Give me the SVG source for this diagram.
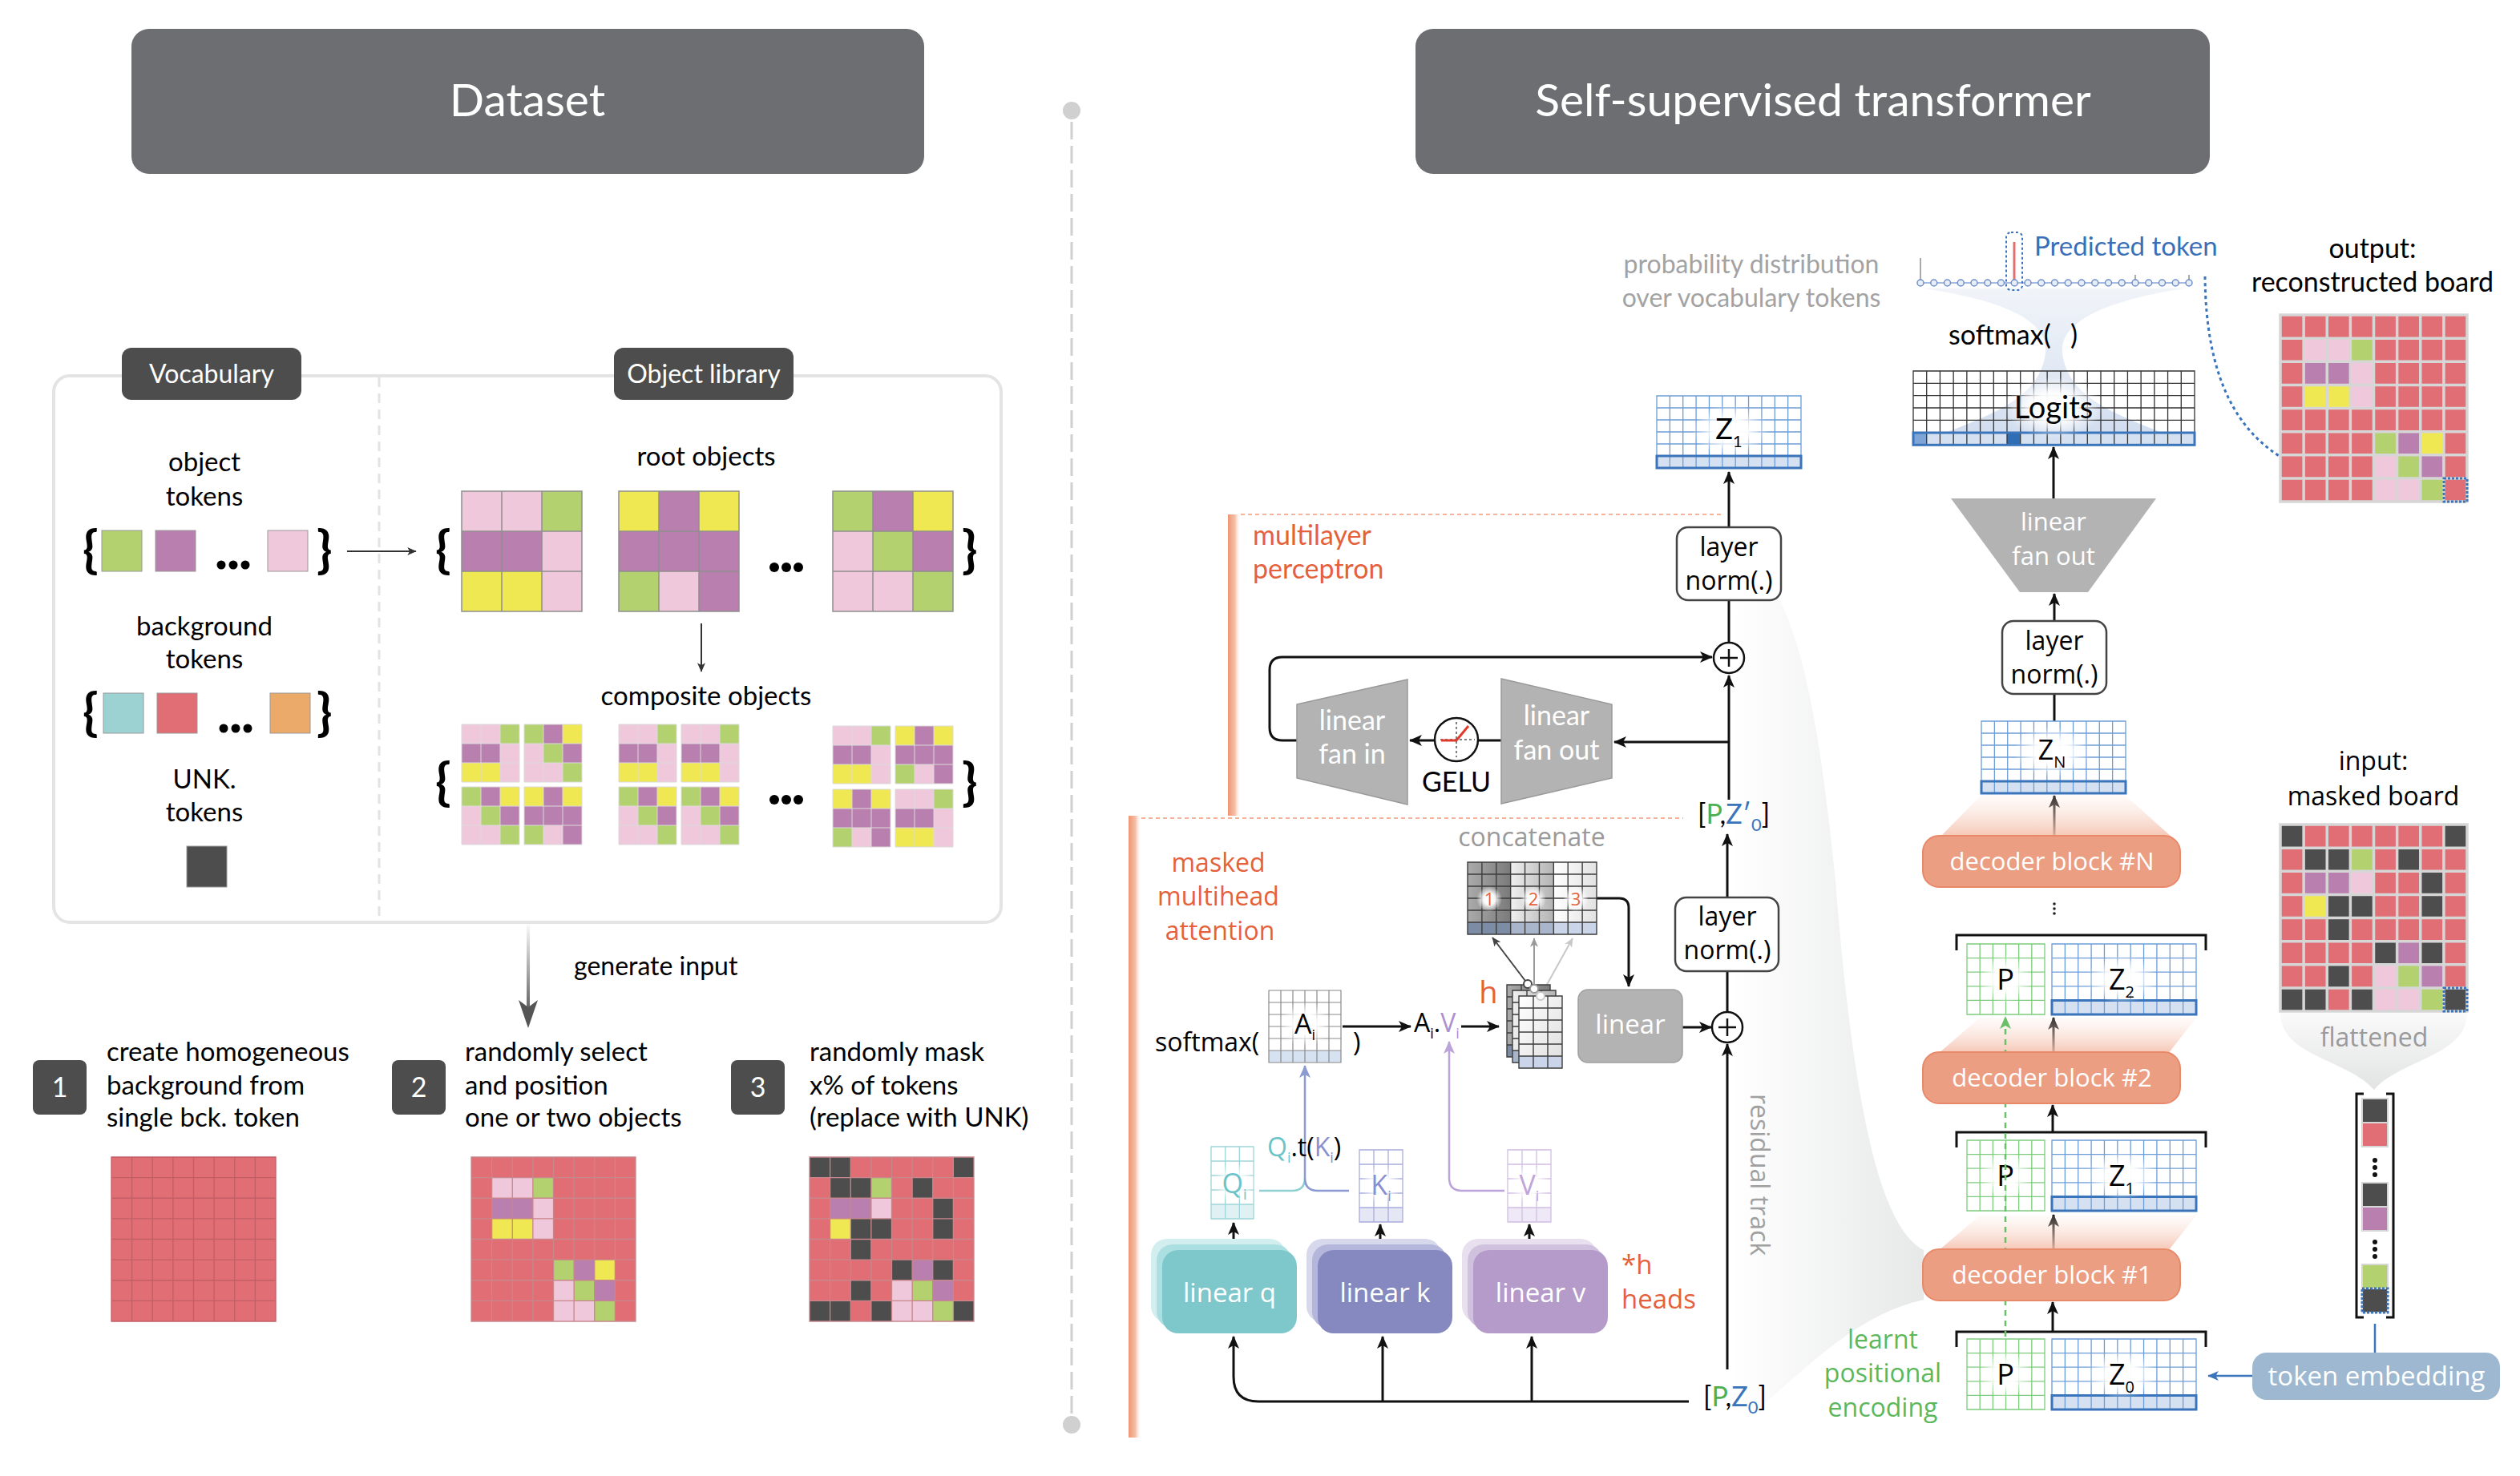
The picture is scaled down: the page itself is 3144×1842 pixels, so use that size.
<svg xmlns="http://www.w3.org/2000/svg" width="3144" height="1842" viewBox="0 0 3144 1842">
<defs>
<style>
.my{font-family:Lato,"Open Sans","Liberation Sans",sans-serif}
.geo{font-family:"Open Sans","DejaVu Sans",sans-serif}
.g{fill:#b3d16f}.p{fill:#b97faf}.k{fill:#f0c8db}.y{fill:#f0e853}.r{fill:#e06e74}.d{fill:#4d4d4d}.t{fill:#9dd2d3}.o{fill:#ecaa6a}
.ns{vector-effect:non-scaling-stroke}
.ln{fill:none;stroke:#111;stroke-width:3}
.or{fill:#e5613b}
.dec{fill:#eb9e82;stroke:#e8896a;stroke-width:2}
.dect{font-size:31px;fill:#fff;text-anchor:middle}
.lnbox{fill:#fff;stroke:#444;stroke-width:2.5}
.tok{stroke:#999;stroke-width:1}
</style>
<marker id="mk" viewBox="0 0 16 14" refX="15" refY="7" markerWidth="16" markerHeight="14" markerUnits="userSpaceOnUse" orient="auto"><path d="M0 0L16 7L0 14L4 7Z" fill="#111"/></marker>
<marker id="mks" viewBox="0 0 16 14" refX="15" refY="7" markerWidth="12" markerHeight="10" markerUnits="userSpaceOnUse" orient="auto"><path d="M0 0L16 7L0 14L4 7Z" fill="#333"/></marker>
<marker id="mg1" viewBox="0 0 16 14" refX="15" refY="7" markerWidth="12" markerHeight="10" markerUnits="userSpaceOnUse" orient="auto"><path d="M0 0L16 7L0 14L4 7Z" fill="#444"/></marker>
<marker id="mg2" viewBox="0 0 16 14" refX="15" refY="7" markerWidth="12" markerHeight="10" markerUnits="userSpaceOnUse" orient="auto"><path d="M0 0L16 7L0 14L4 7Z" fill="#9a9a9a"/></marker>
<marker id="mg3" viewBox="0 0 16 14" refX="15" refY="7" markerWidth="12" markerHeight="10" markerUnits="userSpaceOnUse" orient="auto"><path d="M0 0L16 7L0 14L4 7Z" fill="#c8c8c8"/></marker>
<marker id="mb" viewBox="0 0 16 14" refX="15" refY="7" markerWidth="16" markerHeight="12" markerUnits="userSpaceOnUse" orient="auto"><path d="M0 0L16 7L0 14L4 7Z" fill="#3a75bb"/></marker>
<marker id="mgr" viewBox="0 0 16 14" refX="15" refY="7" markerWidth="16" markerHeight="14" markerUnits="userSpaceOnUse" orient="auto"><path d="M0 0L16 7L0 14L4 7Z" fill="#6abf69"/></marker>
<marker id="mlav" viewBox="0 0 16 14" refX="15" refY="7" markerWidth="16" markerHeight="14" markerUnits="userSpaceOnUse" orient="auto"><path d="M0 0L16 7L0 14L4 7Z" fill="#8c9ad2"/></marker>
<marker id="mpur" viewBox="0 0 16 14" refX="15" refY="7" markerWidth="16" markerHeight="14" markerUnits="userSpaceOnUse" orient="auto"><path d="M0 0L16 7L0 14L4 7Z" fill="#bca3d9"/></marker>
<linearGradient id="gIn" gradientUnits="userSpaceOnUse" x1="0" y1="1150" x2="0" y2="1270"><stop offset="0" stop-color="#fff"/><stop offset="1" stop-color="#555"/></linearGradient>
<linearGradient id="gBar" x1="0" y1="0" x2="1" y2="0"><stop offset="0" stop-color="#ee9674"/><stop offset=".55" stop-color="#f5c0a9"/><stop offset="1" stop-color="#fff" stop-opacity="0"/></linearGradient>
<linearGradient id="gLens" gradientUnits="userSpaceOnUse" x1="2160" y1="0" x2="2400" y2="0"><stop offset="0" stop-color="#fff"/><stop offset="1" stop-color="#e7e8e8"/></linearGradient>
<linearGradient id="gPink" x1="0" y1="1" x2="0" y2="0"><stop offset="0" stop-color="#f4bfab" stop-opacity=".9"/><stop offset="1" stop-color="#fbe3da" stop-opacity=".15"/></linearGradient>
<linearGradient id="gFun" x1="0" y1="1" x2="0" y2="0"><stop offset="0" stop-color="#c6d5ec"/><stop offset=".55" stop-color="#dfe7f3"/><stop offset="1" stop-color="#eef2f8"/></linearGradient>
<linearGradient id="gFlat" x1="0" y1="0" x2="0" y2="1"><stop offset="0" stop-color="#fafafa"/><stop offset="1" stop-color="#e2e3e3"/></linearGradient>
<linearGradient id="gc1" x1="0" y1="0" x2="1" y2="0"><stop offset="0" stop-color="#ababab"/><stop offset="1" stop-color="#7a7a7a"/></linearGradient>
<linearGradient id="gc2" x1="0" y1="0" x2="1" y2="0"><stop offset="0" stop-color="#f0f0f0"/><stop offset="1" stop-color="#b3b3b3"/></linearGradient>
<linearGradient id="gc3" x1="0" y1="0" x2="1" y2="0"><stop offset="0" stop-color="#fff"/><stop offset="1" stop-color="#e2e2e2"/></linearGradient>
<linearGradient id="gs3" x1="0" y1="0" x2="1" y2="1"><stop offset="0" stop-color="#fff"/><stop offset="1" stop-color="#dedede"/></linearGradient>
<radialGradient id="glow"><stop offset="0" stop-color="#fff"/><stop offset=".45" stop-color="#fff" stop-opacity=".95"/><stop offset="1" stop-color="#fff" stop-opacity="0"/></radialGradient>
<path id="gl3" class="ns" fill="none" d="M0 0H3V3H0ZM1 0V3M2 0V3M0 1H3M0 2H3"/>
<path id="gl8" class="ns" fill="none" d="M0 0H8V8H0ZM1 0V8M2 0V8M3 0V8M4 0V8M5 0V8M6 0V8M7 0V8M0 1H8M0 2H8M0 3H8M0 4H8M0 5H8M0 6H8M0 7H8"/>
<path id="gz6" class="ns" fill="none" d="M0 0H11V6H0ZM1 0V6M2 0V6M3 0V6M4 0V6M5 0V6M6 0V6M7 0V6M8 0V6M9 0V6M10 0V6M0 1H11M0 2H11M0 3H11M0 4H11M0 5H11"/>
<path id="gz5" class="ns" fill="none" d="M0 0H11V5H0ZM1 0V5M2 0V5M3 0V5M4 0V5M5 0V5M6 0V5M7 0V5M8 0V5M9 0V5M10 0V5M0 1H11M0 2H11M0 3H11M0 4H11"/>
<path id="gp" class="ns" fill="none" d="M0 0H6V5H0ZM1 0V5M2 0V5M3 0V5M4 0V5M5 0V5M0 1H6M0 2H6M0 3H6M0 4H6"/>
<path id="glog" class="ns" fill="none" d="M0 0H21V6H0ZM1 0V6M2 0V6M3 0V6M4 0V6M5 0V6M6 0V6M7 0V6M8 0V6M9 0V6M10 0V6M11 0V6M12 0V6M13 0V6M14 0V6M15 0V6M16 0V6M17 0V6M18 0V6M19 0V6M20 0V6M0 1H21M0 2H21M0 3H21M0 4H21M0 5H21"/>
<path id="ga" class="ns" fill="none" d="M0 0H6V6H0ZM1 0V6M2 0V6M3 0V6M4 0V6M5 0V6M0 1H6M0 2H6M0 3H6M0 4H6M0 5H6"/>
<path id="gq" class="ns" fill="none" d="M0 0H3V5H0ZM1 0V5M2 0V5M0 1H3M0 2H3M0 3H3M0 4H3"/>
<path id="gc" class="ns" fill="none" d="M0 0H9V6H0ZM1 0V6M2 0V6M3 0V6M4 0V6M5 0V6M6 0V6M7 0V6M8 0V6M0 1H9M0 2H9M0 3H9M0 4H9M0 5H9"/>
<path id="gh" class="ns" fill="none" d="M0 0H3V6H0ZM1 0V6M2 0V6M0 1H3M0 2H3M0 3H3M0 4H3M0 5H3"/>
<g id="o1"><rect class="k" width="1" height="1"/><rect class="k" x="1" width="1" height="1"/><rect class="g" x="2" width="1" height="1"/><rect class="p" y="1" width="1" height="1"/><rect class="p" x="1" y="1" width="1" height="1"/><rect class="k" x="2" y="1" width="1" height="1"/><rect class="y" y="2" width="1" height="1"/><rect class="y" x="1" y="2" width="1" height="1"/><rect class="k" x="2" y="2" width="1" height="1"/></g>
<g id="o2"><rect class="y" width="1" height="1"/><rect class="p" x="1" width="1" height="1"/><rect class="y" x="2" width="1" height="1"/><rect class="p" y="1" width="1" height="1"/><rect class="p" x="1" y="1" width="1" height="1"/><rect class="p" x="2" y="1" width="1" height="1"/><rect class="g" y="2" width="1" height="1"/><rect class="k" x="1" y="2" width="1" height="1"/><rect class="p" x="2" y="2" width="1" height="1"/></g>
<g id="o3"><rect class="g" width="1" height="1"/><rect class="p" x="1" width="1" height="1"/><rect class="y" x="2" width="1" height="1"/><rect class="k" y="1" width="1" height="1"/><rect class="g" x="1" y="1" width="1" height="1"/><rect class="p" x="2" y="1" width="1" height="1"/><rect class="k" y="2" width="1" height="1"/><rect class="k" x="1" y="2" width="1" height="1"/><rect class="g" x="2" y="2" width="1" height="1"/></g>
<g id="c1"><use href="#o1"/><use href="#gl3" stroke="#dadada" stroke-width="1"/></g>
<g id="c2"><use href="#o2"/><use href="#gl3" stroke="#dadada" stroke-width="1"/></g>
<g id="c3"><use href="#o3"/><use href="#gl3" stroke="#dadada" stroke-width="1"/></g>
<g id="Zg6"><rect width="11" height="6" fill="#fff"/><rect y="5" width="11" height="1" fill="#d5e1f1"/><use href="#gz6" stroke="#6d9dd7" stroke-width="1.3"/><rect class="ns" y="5" width="11" height="1" fill="none" stroke="#3a75bb" stroke-width="3"/></g>
<g id="Zg5"><rect width="11" height="5" fill="#fff"/><rect y="4" width="11" height="1" fill="#d5e1f1"/><use href="#gz5" stroke="#6d9dd7" stroke-width="1.3"/><rect class="ns" y="4" width="11" height="1" fill="none" stroke="#3a75bb" stroke-width="3"/></g>
<g id="Pg"><rect width="6" height="5" fill="#fff"/><use href="#gp" stroke="#7dcc7d" stroke-width="1.3"/></g>
<g id="stage2"><use href="#o1" transform="translate(1,1)"/><use href="#o3" transform="translate(4,5)"/></g>
</defs>

<rect width="3144" height="1842" fill="#fff"/>

<!-- headers -->
<g id="hdr-dataset"><rect x="164" y="36" width="989" height="181" rx="22" fill="#6d6e71"/><text class="my" x="658" y="145" font-size="57" fill="#fff" text-anchor="middle">Dataset</text></g>
<g id="hdr-transformer"><rect x="1766" y="36" width="991" height="181" rx="22" fill="#6d6e71"/><text class="my" x="2262" y="145" font-size="57" fill="#fff" text-anchor="middle">Self-supervised transformer</text></g>
<g id="divider"><line x1="1337" y1="152" x2="1337" y2="1766" stroke="#d0d0d0" stroke-width="3" stroke-dasharray="22 8"/><circle cx="1337" cy="138" r="11" fill="#d0d0d0"/><circle cx="1337" cy="1778" r="11" fill="#d0d0d0"/></g>

<!-- LEFT: dataset panel -->
<g id="dataset-panel">
<rect x="67" y="469" width="1182" height="682" rx="20" fill="none" stroke="#e4e4e4" stroke-width="4"/>
<line x1="473" y1="471" x2="473" y2="1149" stroke="#e4e4e4" stroke-width="3" stroke-dasharray="12 8"/>
</g>
<g id="tab-vocabulary"><rect x="152" y="434" width="224" height="65" rx="12" fill="#4d4d4d"/><text class="my" x="264" y="478" font-size="32" fill="#fff" text-anchor="middle">Vocabulary</text></g>
<g id="tab-object-library"><rect x="766" y="434" width="224" height="65" rx="12" fill="#4d4d4d"/><text class="my" x="878" y="478" font-size="32" fill="#fff" text-anchor="middle">Object library</text></g>

<g id="object-tokens">
<text class="my" x="255" y="588" font-size="33" text-anchor="middle">object</text>
<text class="my" x="255" y="631" font-size="33" text-anchor="middle">tokens</text>
<text class="my" x="103" y="708" font-size="64" font-weight="700">{</text>
<rect class="g tok" x="127" y="662" width="50" height="51"/>
<rect class="p tok" x="194" y="662" width="50" height="51"/>
<circle cx="276" cy="705" r="5.5"/><circle cx="291" cy="705" r="5.5"/><circle cx="306" cy="705" r="5.5"/>
<rect class="k tok" x="334" y="662" width="50" height="51"/>
<text class="my" x="395" y="708" font-size="64" font-weight="700">}</text>
</g>
<g id="background-tokens">
<text class="my" x="255" y="793" font-size="33" text-anchor="middle">background</text>
<text class="my" x="255" y="834" font-size="33" text-anchor="middle">tokens</text>
<text class="my" x="103" y="911" font-size="64" font-weight="700">{</text>
<rect class="t tok" x="129" y="865" width="50" height="50"/>
<rect class="r tok" x="196" y="865" width="50" height="50"/>
<circle cx="279" cy="909" r="5.5"/><circle cx="294" cy="909" r="5.5"/><circle cx="309" cy="909" r="5.5"/>
<rect class="o tok" x="337" y="865" width="50" height="50"/>
<text class="my" x="395" y="911" font-size="64" font-weight="700">}</text>
</g>
<g id="unk-tokens">
<text class="my" x="255" y="984" font-size="33" text-anchor="middle">UNK.</text>
<text class="my" x="255" y="1025" font-size="33" text-anchor="middle">tokens</text>
<rect class="d" x="233" y="1056" width="50" height="51" stroke="#999" stroke-width="1"/>
</g>

<g id="root-objects">
<text class="my" x="881" y="581" font-size="33" text-anchor="middle">root objects</text>
<text class="my" x="543" y="708" font-size="64" font-weight="700">{</text>
<g transform="translate(576,613) scale(50)"><use href="#o1"/><use href="#gl3" stroke="#8f8f8f" stroke-width="1.5"/></g>
<g transform="translate(772,613) scale(50)"><use href="#o2"/><use href="#gl3" stroke="#8f8f8f" stroke-width="1.5"/></g>
<circle cx="966" cy="708" r="6"/><circle cx="981" cy="708" r="6"/><circle cx="996" cy="708" r="6"/>
<g transform="translate(1039,613) scale(50)"><use href="#o3"/><use href="#gl3" stroke="#8f8f8f" stroke-width="1.5"/></g>
<text class="my" x="1200" y="708" font-size="64" font-weight="700">}</text>
</g>
<g id="composite-objects">
<text class="my" x="881" y="880" font-size="33" text-anchor="middle">composite objects</text>
<text class="my" x="543" y="998" font-size="64" font-weight="700">{</text>
<use href="#c1" transform="translate(576,904) scale(24)"/>
<use href="#c3" transform="translate(654,904) scale(24)"/>
<use href="#c3" transform="translate(576,982) scale(24)"/>
<use href="#c2" transform="translate(654,982) scale(24)"/>
<use href="#c1" transform="translate(772,904) scale(24)"/>
<use href="#c1" transform="translate(850,904) scale(24)"/>
<use href="#c3" transform="translate(772,982) scale(24)"/>
<use href="#c3" transform="translate(850,982) scale(24)"/>
<circle cx="966" cy="998" r="6"/><circle cx="981" cy="998" r="6"/><circle cx="996" cy="998" r="6"/>
<use href="#c1" transform="translate(1039,906) scale(24)"/>
<use href="#c2" transform="translate(1117,906) scale(24)"/>
<use href="#c2" transform="translate(1039,985) scale(24)"/>
<use href="#c1" transform="translate(1117,985) scale(24)"/>
<text class="my" x="1200" y="998" font-size="64" font-weight="700">}</text>
</g>

<g id="dataset-connectors">
<line x1="433" y1="688" x2="519" y2="688" stroke="#333" stroke-width="2" marker-end="url(#mks)"/>
<line x1="875" y1="778" x2="875" y2="838" stroke="#333" stroke-width="2" marker-end="url(#mks)"/>
<line x1="659" y1="1153" x2="659" y2="1262" stroke="url(#gIn)" stroke-width="4"/>
<path d="M647 1248L659 1283L671 1248L659 1257Z" fill="#555"/>
</g>
<text class="my" x="716" y="1217" font-size="32">generate input</text>

<g id="step-1"><rect x="41" y="1323" width="67" height="68" rx="8" fill="#4d4d4d"/><text class="my" x="74.5" y="1369" font-size="34" fill="#fff" text-anchor="middle">1</text>
<text class="my" x="133" y="1324" font-size="33">create homogeneous</text><text class="my" x="133" y="1366" font-size="33">background from</text><text class="my" x="133" y="1406" font-size="33">single bck. token</text></g>
<g id="step-2"><rect x="489" y="1323" width="67" height="68" rx="8" fill="#4d4d4d"/><text class="my" x="522.5" y="1369" font-size="34" fill="#fff" text-anchor="middle">2</text>
<text class="my" x="580" y="1324" font-size="33">randomly select</text><text class="my" x="580" y="1366" font-size="33">and position</text><text class="my" x="580" y="1406" font-size="33">one or two objects</text></g>
<g id="step-3"><rect x="912" y="1323" width="67" height="68" rx="8" fill="#4d4d4d"/><text class="my" x="945.5" y="1369" font-size="34" fill="#fff" text-anchor="middle">3</text>
<text class="my" x="1010" y="1324" font-size="33">randomly mask</text><text class="my" x="1010" y="1366" font-size="33">x% of tokens</text><text class="my" x="1010" y="1406" font-size="33">(replace with UNK)</text></g>

<g id="board-1" transform="translate(139,1444) scale(25.625)"><rect class="r" width="8" height="8"/><use href="#gl8" stroke="#c25f66" stroke-width="1.3"/></g>
<g id="board-2" transform="translate(588,1444) scale(25.625)"><rect class="r" width="8" height="8"/><use href="#stage2"/><use href="#gl8" stroke="#c8878c" stroke-width="1.3"/></g>
<g id="board-3" transform="translate(1010,1444) scale(25.625)"><rect class="r" width="8" height="8"/><use href="#stage2"/>
<rect class="d" x="0" y="0" width="1" height="1"/><rect class="d" x="1" y="0" width="1" height="1"/><rect class="d" x="7" y="0" width="1" height="1"/>
<rect class="d" x="1" y="1" width="1" height="1"/><rect class="d" x="2" y="1" width="1" height="1"/><rect class="d" x="5" y="1" width="1" height="1"/>
<rect class="d" x="6" y="2" width="1" height="1"/>
<rect class="d" x="2" y="3" width="1" height="1"/><rect class="d" x="3" y="3" width="1" height="1"/><rect class="d" x="6" y="3" width="1" height="1"/>
<rect class="d" x="2" y="4" width="1" height="1"/>
<rect class="d" x="4" y="5" width="1" height="1"/><rect class="p" x="5" y="5" width="1" height="1"/><rect class="d" x="6" y="5" width="1" height="1"/>
<rect class="d" x="2" y="6" width="1" height="1"/>
<rect class="d" x="0" y="7" width="1" height="1"/><rect class="d" x="1" y="7" width="1" height="1"/><rect class="d" x="3" y="7" width="1" height="1"/><rect class="d" x="7" y="7" width="1" height="1"/>
<use href="#gl8" stroke="#c8878c" stroke-width="1.3"/></g>

<!-- RIGHT: transformer -->
<path id="lens" d="M2165 700C2240 705 2270 900 2290 1100C2310 1350 2340 1530 2400 1560L2400 1622C2320 1640 2260 1700 2190 1762L2165 1762Z" fill="url(#gLens)"/>

<g id="section-bars">
<rect x="1532" y="642" width="16" height="376" fill="url(#gBar)"/>
<line x1="1548" y1="642" x2="2150" y2="642" stroke="#f5b49a" stroke-width="2" stroke-dasharray="5 4"/>
<rect x="1408" y="1018" width="16" height="776" fill="url(#gBar)"/>
<line x1="1424" y1="1021" x2="2100" y2="1021" stroke="#f5b49a" stroke-width="2" stroke-dasharray="5 4"/>
<text class="my or" x="1563" y="680" font-size="34">multilayer</text>
<text class="my or" x="1563" y="722" font-size="34">perceptron</text>
<text class="geo or" x="1520" y="1088" font-size="32" text-anchor="middle">masked</text>
<text class="geo or" x="1520" y="1130" font-size="32" text-anchor="middle">multihead</text>
<text class="geo or" x="1522" y="1173" font-size="32" text-anchor="middle">attention</text>
</g>

<g id="connectors">
<!-- MLP -->
<line class="ln" x1="2157" y1="658" x2="2157" y2="589" marker-end="url(#mk)"/>
<line class="ln" x1="2157" y1="802" x2="2157" y2="749"/>
<line class="ln" x1="2157" y1="998" x2="2157" y2="843" marker-end="url(#mk)"/>
<line class="ln" x1="2157" y1="926" x2="2014" y2="926" marker-end="url(#mk)"/>
<path class="ln" d="M1618 924H1600Q1584 924 1584 908V836Q1584 820 1600 820H2136" marker-end="url(#mk)"/>
<line class="ln" x1="1873" y1="924" x2="1844" y2="924"/>
<line class="ln" x1="1790" y1="924" x2="1759" y2="924" marker-end="url(#mk)"/>
<!-- attention -->
<line class="ln" x1="2155" y1="1120" x2="2155" y2="1041" marker-end="url(#mk)"/>
<line class="ln" x1="2155" y1="1264" x2="2155" y2="1212"/>
<line class="ln" x1="2155" y1="1709" x2="2155" y2="1303" marker-end="url(#mk)"/>
<line class="ln" x1="2099" y1="1282" x2="2135" y2="1282" marker-end="url(#mk)"/>
<path class="ln" d="M1992 1121H2020Q2032 1121 2032 1133V1231" stroke-width="2.5" marker-end="url(#mk)"/>
<path class="ln" d="M2107 1749H1570Q1539 1749 1539 1718V1668" marker-end="url(#mk)"/>
<line class="ln" x1="1725" y1="1749" x2="1725" y2="1668" marker-end="url(#mk)"/>
<line class="ln" x1="1911" y1="1749" x2="1911" y2="1668" marker-end="url(#mk)"/>
<line class="ln" x1="1539" y1="1560" x2="1539" y2="1526" marker-end="url(#mk)"/>
<line class="ln" x1="1722" y1="1560" x2="1722" y2="1528" marker-end="url(#mk)"/>
<line class="ln" x1="1908" y1="1560" x2="1908" y2="1528" marker-end="url(#mk)"/>
<line class="ln" x1="1675" y1="1281" x2="1760" y2="1281" marker-end="url(#mk)"/>
<line class="ln" x1="1823" y1="1281" x2="1870" y2="1281" marker-end="url(#mk)"/>
<path d="M1571 1486H1612Q1628 1486 1628 1470" fill="none" stroke="#8fd0d3" stroke-width="2.5"/>
<path d="M1683 1486H1644Q1628 1486 1628 1470V1330" fill="none" stroke="#8c9ad2" stroke-width="2.5" marker-end="url(#mlav)"/>
<path d="M1877 1486H1824Q1808 1486 1808 1470V1300" fill="none" stroke="#bca3d9" stroke-width="2.5" marker-end="url(#mpur)"/>
<line x1="1906" y1="1228" x2="1862" y2="1170" stroke="#444" stroke-width="2" marker-end="url(#mg1)"/>
<line x1="1914" y1="1234" x2="1914" y2="1171" stroke="#9a9a9a" stroke-width="2" marker-end="url(#mg2)"/>
<line x1="1922" y1="1243" x2="1962" y2="1171" stroke="#c8c8c8" stroke-width="2" marker-end="url(#mg3)"/>
<!-- decoder stack -->
<line class="ln" x1="2562" y1="622" x2="2562" y2="558" marker-end="url(#mk)"/>
<line class="ln" x1="2563" y1="775" x2="2563" y2="741" marker-end="url(#mk)"/>
<line class="ln" x1="2563" y1="900" x2="2563" y2="866"/>
<line class="ln" x1="2563" y1="1043" x2="2563" y2="993" marker-end="url(#mk)"/>
<line class="ln" x1="2562" y1="1313" x2="2562" y2="1270" marker-end="url(#mk)"/>
<line class="ln" x1="2561" y1="1413" x2="2561" y2="1379" marker-end="url(#mk)"/>
<line class="ln" x1="2562" y1="1559" x2="2562" y2="1516" marker-end="url(#mk)"/>
<line class="ln" x1="2561" y1="1662" x2="2561" y2="1625" marker-end="url(#mk)"/>
<line x1="2810" y1="1717" x2="2755" y2="1717" stroke="#3a75bb" stroke-width="2.5" marker-end="url(#mb)"/>
<line x1="2963" y1="1652" x2="2963" y2="1688" stroke="#3a75bb" stroke-width="2.5"/>
<path d="M2751 345C2752 470 2790 535 2845 570C2895 598 2960 612 3030 613" fill="none" stroke="#3a75bb" stroke-width="3" stroke-dasharray="4 4" marker-end="url(#mb)"/>
</g>

<!-- MLP nodes -->
<g id="z1-top"><use href="#Zg6" transform="translate(2067,494) scale(16.364,15)"/><ellipse cx="2159" cy="537" rx="48" ry="32" fill="url(#glow)"/><text class="my" x="2157" y="548" font-size="36" text-anchor="middle">Z<tspan font-size="20" dy="10">1</tspan></text></g>
<g id="layer-norm-1"><rect class="lnbox" x="2092" y="658" width="130" height="91" rx="14"/><text class="geo" x="2157" y="694" font-size="32" text-anchor="middle">layer</text><text class="geo" x="2157" y="736" font-size="32" text-anchor="middle">norm(.)</text></g>
<g id="add-1"><circle cx="2157" cy="821" r="19" fill="#fff" stroke="#111" stroke-width="2.5"/><path d="M2146 821H2168M2157 810V832" stroke="#111" stroke-width="2.5"/></g>
<g id="fan-in"><polygon points="1618,879 1756,848 1756,1004 1618,971" fill="#b3b3b3" stroke="#9a9a9a" stroke-width="1.5"/><text class="my" x="1687" y="911" font-size="34" fill="#fff" text-anchor="middle">linear</text><text class="my" x="1687" y="953" font-size="34" fill="#fff" text-anchor="middle">fan in</text></g>
<g id="fan-out"><polygon points="1873,847 2011,879 2011,971 1873,1003" fill="#b3b3b3" stroke="#9a9a9a" stroke-width="1.5"/><text class="my" x="1942" y="905" font-size="34" fill="#fff" text-anchor="middle">linear</text><text class="my" x="1942" y="948" font-size="34" fill="#fff" text-anchor="middle">fan out</text></g>
<g id="gelu"><circle cx="1817" cy="923" r="27" fill="#fff" stroke="#111" stroke-width="2.5"/><path d="M1817 901V945M1797 923H1840" stroke="#555" stroke-width="1.5" stroke-dasharray="3 3"/><path d="M1798 924H1817L1832 906" fill="none" stroke="#e03a2a" stroke-width="3"/><text class="my" x="1817" y="988" font-size="34" text-anchor="middle">GELU</text></g>
<text class="my" x="2118" y="1028" font-size="34">[<tspan fill="#4fb04f">P</tspan>,<tspan fill="#3a75bb">Z′</tspan><tspan fill="#3a75bb" font-size="22" dy="9">0</tspan><tspan dy="-9">]</tspan></text>

<!-- attention nodes -->
<g id="layer-norm-2"><rect class="lnbox" x="2090" y="1120" width="129" height="92" rx="14"/><text class="geo" x="2155" y="1155" font-size="32" text-anchor="middle">layer</text><text class="geo" x="2155" y="1197" font-size="32" text-anchor="middle">norm(.)</text></g>
<g id="add-2"><circle cx="2155" cy="1282" r="19" fill="#fff" stroke="#111" stroke-width="2.5"/><path d="M2144 1282H2166M2155 1271V1293" stroke="#111" stroke-width="2.5"/></g>
<g id="linear-out"><rect x="1969" y="1235" width="130" height="91" rx="12" fill="#b3b3b3" stroke="#a0a0a0" stroke-width="1.5"/><text class="geo" x="2034" y="1290" font-size="33" fill="#fff" text-anchor="middle">linear</text></g>
<g id="concatenate">
<text class="geo" x="1911" y="1056" font-size="32" fill="#9a9a9a" text-anchor="middle">concatenate</text>
<g transform="translate(1831,1076) scale(17.889,15)">
<rect width="3" height="5" fill="url(#gc1)"/><rect x="3" width="3" height="5" fill="url(#gc2)"/><rect x="6" width="3" height="5" fill="url(#gc3)"/>
<rect y="5" width="3" height="1" fill="#7d8ca5"/><rect x="3" y="5" width="3" height="1" fill="#a8b5cb"/><rect x="6" y="5" width="3" height="1" fill="#cad5e9"/>
<use href="#gc" stroke="#3d3d3d" stroke-width="1.4"/></g>
<circle cx="1858" cy="1122" r="16" fill="url(#glow)"/><circle cx="1913" cy="1122" r="16" fill="url(#glow)"/><circle cx="1966" cy="1122" r="16" fill="url(#glow)"/>
<text class="geo or" x="1858" y="1130" font-size="22" text-anchor="middle">1</text><text class="geo or" x="1913" y="1130" font-size="22" text-anchor="middle">2</text><text class="geo or" x="1966" y="1130" font-size="22" text-anchor="middle">3</text>
</g>
<g id="heads-stack">
<g transform="translate(1880,1229) scale(18,15)"><rect width="3" height="6" fill="url(#gc1)"/><rect y="5" width="3" height="1" fill="#7d8ca5"/><use href="#gh" stroke="#3d3d3d" stroke-width="1.4"/></g>
<g transform="translate(1887,1236) scale(18,15)"><rect width="3" height="6" fill="url(#gc2)"/><rect y="5" width="3" height="1" fill="#a8b5cb"/><use href="#gh" stroke="#3d3d3d" stroke-width="1.4"/></g>
<g transform="translate(1895,1243) scale(18,15)"><rect width="3" height="6" fill="url(#gs3)"/><rect y="5" width="3" height="1" fill="#cad5e9"/><use href="#gh" stroke="#3d3d3d" stroke-width="1.4"/></g>
<circle cx="1906" cy="1228" r="5" fill="#fff" stroke="#444" stroke-width="2"/><circle cx="1914" cy="1234" r="5" fill="#fff" stroke="#9a9a9a" stroke-width="2"/><circle cx="1922" cy="1243" r="5" fill="#fff" stroke="#c8c8c8" stroke-width="2"/>
<text class="geo or" x="1857" y="1252" font-size="38" text-anchor="middle">h</text>
</g>
<g id="softmax-attn">
<text class="geo" x="1441" y="1312" font-size="32">softmax(</text>
<g transform="translate(1583,1236) scale(15)"><rect width="6" height="6" fill="#fff"/><rect y="5" width="6" height="1" fill="#d6e1f1"/><use href="#ga" stroke="#8a8a8a" stroke-width="1.2"/></g>
<ellipse cx="1628" cy="1278" rx="32" ry="28" fill="url(#glow)"/>
<text class="geo" x="1628" y="1290" font-size="34" text-anchor="middle">A<tspan font-size="18" dy="8">i</tspan></text>
<text class="geo" x="1688" y="1312" font-size="32">)</text>
</g>
<text id="av" class="geo" x="1764" y="1288" font-size="32">A<tspan font-size="18" dy="8">i</tspan><tspan dy="-8">.</tspan><tspan fill="#b08fcf">V</tspan><tspan fill="#b08fcf" font-size="18" dy="8">i</tspan></text>
<g id="q-grid"><g transform="translate(1511,1431) scale(17.667,18)"><rect width="3" height="5" fill="#fff"/><rect y="4" width="3" height="1" fill="#dff1f2"/><use href="#gq" stroke="#9fd6d9" stroke-width="1.3"/></g><ellipse cx="1540" cy="1476" rx="26" ry="24" fill="url(#glow)"/><text class="geo" x="1540" y="1489" font-size="34" fill="#6cc3c8" text-anchor="middle">Q<tspan font-size="18" dy="8">i</tspan></text></g>
<g id="k-grid"><g transform="translate(1696,1435) scale(18,18)"><rect width="3" height="5" fill="#fff"/><rect y="4" width="3" height="1" fill="#e6e7f5"/><use href="#gq" stroke="#a9acdc" stroke-width="1.3"/></g><ellipse cx="1723" cy="1478" rx="26" ry="24" fill="url(#glow)"/><text class="geo" x="1723" y="1491" font-size="34" fill="#8a8fd0" text-anchor="middle">K<tspan font-size="18" dy="8">i</tspan></text></g>
<g id="v-grid"><g transform="translate(1881,1435) scale(18,18)"><rect width="3" height="5" fill="#fff"/><rect y="4" width="3" height="1" fill="#efe8f6"/><use href="#gq" stroke="#d1bfe3" stroke-width="1.3"/></g><ellipse cx="1908" cy="1478" rx="26" ry="24" fill="url(#glow)"/><text class="geo" x="1908" y="1491" font-size="34" fill="#c0a5d8" text-anchor="middle">V<tspan font-size="18" dy="8">i</tspan></text></g>
<text id="qk-label" class="geo" x="1581" y="1443" font-size="32"><tspan fill="#6cc3c8">Q</tspan><tspan fill="#6cc3c8" font-size="18" dy="8">i</tspan><tspan dy="-8">.t(</tspan><tspan fill="#8a8fd0">K</tspan><tspan fill="#8a8fd0" font-size="18" dy="8">i</tspan><tspan dy="-8">)</tspan></text>
<g id="linear-q"><rect x="1436" y="1546" width="168" height="104" rx="20" fill="#d2eeef"/><rect x="1443" y="1553" width="168" height="104" rx="20" fill="#acdfe1"/><rect x="1450" y="1560" width="168" height="104" rx="20" fill="#7ec8cc"/><text class="geo" x="1534" y="1625" font-size="33" fill="#fff" text-anchor="middle">linear q</text></g>
<g id="linear-k"><rect x="1630" y="1546" width="168" height="104" rx="20" fill="#d7d8ec"/><rect x="1637" y="1553" width="168" height="104" rx="20" fill="#b4b6dc"/><rect x="1644" y="1560" width="168" height="104" rx="20" fill="#8589c0"/><text class="geo" x="1728" y="1625" font-size="33" fill="#fff" text-anchor="middle">linear k</text></g>
<g id="linear-v"><rect x="1824" y="1546" width="168" height="104" rx="20" fill="#e8e0ef"/><rect x="1831" y="1553" width="168" height="104" rx="20" fill="#d0c1df"/><rect x="1838" y="1560" width="168" height="104" rx="20" fill="#b59bc9"/><text class="geo" x="1922" y="1625" font-size="33" fill="#fff" text-anchor="middle">linear v</text></g>
<text class="geo or" x="2023" y="1590" font-size="33">*h</text>
<text class="geo or" x="2023" y="1633" font-size="33">heads</text>
<text class="my" x="2125" y="1755" font-size="34">[<tspan fill="#4fb04f">P</tspan>,<tspan fill="#3a75bb">Z</tspan><tspan fill="#3a75bb" font-size="22" dy="9">0</tspan><tspan dy="-9">]</tspan></text>
<text class="geo" transform="translate(2184,1466) rotate(90)" font-size="32" fill="#a0a0a0" text-anchor="middle">residual track</text>

<!-- decoder stack -->
<g id="pink-fans">
<polygon points="2420,1045 2472,992 2651,992 2710,1045" fill="url(#gPink)"/>
<polygon points="2418,1315 2470,1270 2740,1270 2705,1315" fill="url(#gPink)"/>
<polygon points="2418,1561 2470,1517 2740,1517 2705,1561" fill="url(#gPink)"/>
</g>
<g id="zn"><use href="#Zg6" transform="translate(2472,900) scale(16.364,15)"/><ellipse cx="2560" cy="938" rx="48" ry="32" fill="url(#glow)"/><text class="geo" x="2560" y="948" font-size="34" text-anchor="middle">Z<tspan font-size="20" dy="10">N</tspan></text></g>
<g id="layer-norm-3"><rect class="lnbox" x="2498" y="775" width="130" height="91" rx="14"/><text class="geo" x="2563" y="811" font-size="32" text-anchor="middle">layer</text><text class="geo" x="2563" y="853" font-size="32" text-anchor="middle">norm(.)</text></g>
<g id="fan-out-top"><polygon points="2434,622 2690,622 2605,739 2520,739" fill="#b3b3b3"/><text class="geo" x="2562" y="662" font-size="31" fill="#fff" text-anchor="middle">linear</text><text class="geo" x="2562" y="705" font-size="31" fill="#fff" text-anchor="middle">fan out</text></g>
<g id="logits">
<rect x="2387" y="463" width="351" height="92" fill="#fff"/>
<path d="M2387 555C2480 520 2545 500 2552 440C2556 400 2500 375 2400 360L2725 360C2630 375 2570 400 2573 440C2580 500 2645 520 2738 555Z" fill="url(#gFun)" opacity=".85"/>
<rect x="2387" y="540" width="351" height="15.3" fill="#d5e1f1"/>
<rect x="2387" y="540" width="16.7" height="15.3" fill="#7fa4d6"/>
<rect x="2504" y="540" width="16.7" height="15.3" fill="#2f6db5"/>
<use href="#glog" transform="translate(2387,463) scale(16.714,15.333)" stroke="#333" stroke-width="1.3"/>
<rect x="2387" y="540" width="351" height="15.3" fill="none" stroke="#3a75bb" stroke-width="3"/>
<ellipse cx="2562" cy="508" rx="62" ry="38" fill="url(#glow)"/>
<text class="my" x="2562" y="522" font-size="38" text-anchor="middle">Logits</text>
</g>
<g id="softmax-top"><text class="my" x="2431" y="430" font-size="34">softmax(</text><text class="my" x="2583" y="430" font-size="34">)</text></g>
<g id="distribution">
<line x1="2396" y1="353" x2="2731" y2="353" stroke="#8aa5d6" stroke-width="1.5"/>
<line x1="2396" y1="322" x2="2396" y2="353" stroke="#aaa" stroke-width="2"/>
<line x1="2664" y1="343" x2="2664" y2="353" stroke="#aaa" stroke-width="2"/>
<line x1="2731" y1="343" x2="2731" y2="353" stroke="#aaa" stroke-width="2"/>
<line x1="2513" y1="302" x2="2513" y2="350" stroke="#e07070" stroke-width="3"/>
<g fill="#e8eef8" stroke="#6f8fc9" stroke-width="1.5">
<circle cx="2396" cy="353" r="4"/><circle cx="2412.75" cy="353" r="4"/><circle cx="2429.5" cy="353" r="4"/><circle cx="2446.25" cy="353" r="4"/><circle cx="2463" cy="353" r="4"/><circle cx="2479.75" cy="353" r="4"/><circle cx="2496.5" cy="353" r="4"/><circle cx="2513.25" cy="353" r="4"/><circle cx="2530" cy="353" r="4"/><circle cx="2546.75" cy="353" r="4"/><circle cx="2563.5" cy="353" r="4"/><circle cx="2580.25" cy="353" r="4"/><circle cx="2597" cy="353" r="4"/><circle cx="2613.75" cy="353" r="4"/><circle cx="2630.5" cy="353" r="4"/><circle cx="2647.25" cy="353" r="4"/><circle cx="2664" cy="353" r="4"/><circle cx="2680.75" cy="353" r="4"/><circle cx="2697.5" cy="353" r="4"/><circle cx="2714.25" cy="353" r="4"/><circle cx="2731" cy="353" r="4"/>
</g>
<rect x="2503" y="290" width="20" height="72" rx="6" fill="none" stroke="#3a75bb" stroke-width="2" stroke-dasharray="3 3"/>
<text class="my" x="2538" y="319" font-size="33" fill="#3a6fb7">Predicted token</text>
<text class="my" x="2185" y="341" font-size="32" fill="#a3a3a3" text-anchor="middle">probability distribution</text>
<text class="my" x="2185" y="383" font-size="32" fill="#a3a3a3" text-anchor="middle">over vocabulary tokens</text>
</g>
<g id="output-board">
<text class="my" x="2960" y="322" font-size="34" text-anchor="middle">output:</text>
<text class="my" x="2960" y="364" font-size="34" text-anchor="middle">reconstructed board</text>
<g transform="translate(2845,393) scale(29.125)"><rect class="r" width="8" height="8"/><use href="#stage2"/><use href="#gl8" stroke="#d6d6d6" stroke-width="3.5"/></g>
<rect x="3049" y="597" width="29" height="29" fill="none" stroke="#3a75bb" stroke-width="3" stroke-dasharray="3 2"/>
</g>

<g id="p2-z2"><path d="M2441 1186V1167H2752V1186" class="ln"/><use href="#Pg" transform="translate(2454,1178) scale(16.167,17.6)"/><use href="#Zg5" transform="translate(2560,1178) scale(16.364,17.6)"/>
<ellipse cx="2502" cy="1222" rx="34" ry="30" fill="url(#glow)"/><ellipse cx="2647" cy="1222" rx="44" ry="30" fill="url(#glow)"/>
<text class="geo" x="2502" y="1235" font-size="36" text-anchor="middle">P</text><text class="geo" x="2647" y="1235" font-size="36" text-anchor="middle">Z<tspan font-size="20" dy="10">2</tspan></text></g>
<g id="p1-z1"><path d="M2441 1432V1413H2752V1432" class="ln"/><use href="#Pg" transform="translate(2454,1423) scale(16.167,17.6)"/><use href="#Zg5" transform="translate(2560,1423) scale(16.364,17.6)"/>
<ellipse cx="2502" cy="1467" rx="34" ry="30" fill="url(#glow)"/><ellipse cx="2647" cy="1467" rx="44" ry="30" fill="url(#glow)"/>
<text class="geo" x="2502" y="1480" font-size="36" text-anchor="middle">P</text><text class="geo" x="2647" y="1480" font-size="36" text-anchor="middle">Z<tspan font-size="20" dy="10">1</tspan></text></g>
<g id="p0-z0"><path d="M2441 1681V1662H2752V1681" class="ln"/><use href="#Pg" transform="translate(2454,1671) scale(16.167,17.6)"/><use href="#Zg5" transform="translate(2560,1671) scale(16.364,17.6)"/>
<ellipse cx="2502" cy="1715" rx="34" ry="30" fill="url(#glow)"/><ellipse cx="2647" cy="1715" rx="44" ry="30" fill="url(#glow)"/>
<text class="geo" x="2502" y="1728" font-size="36" text-anchor="middle">P</text><text class="geo" x="2647" y="1728" font-size="36" text-anchor="middle">Z<tspan font-size="20" dy="10">0</tspan></text></g>
<line id="pos-enc-link" x1="2502" y1="1668" x2="2502" y2="1269" stroke="#6abf69" stroke-width="2.5" stroke-dasharray="7 6" marker-end="url(#mgr)"/>
<g id="decoder-n"><rect class="dec" x="2399" y="1043" width="321" height="64" rx="20"/><text class="geo dect" x="2560" y="1086">decoder block #N</text></g>
<g id="ellipsis-dec" fill="#222"><circle cx="2563" cy="1128" r="1.8"/><circle cx="2563" cy="1134" r="1.8"/><circle cx="2563" cy="1140" r="1.8"/></g>
<g id="decoder-2"><rect class="dec" x="2399" y="1313" width="321" height="64" rx="20"/><text class="geo dect" x="2560" y="1356">decoder block #2</text></g>
<g id="decoder-1"><rect class="dec" x="2399" y="1559" width="321" height="64" rx="20"/><text class="geo dect" x="2560" y="1602">decoder block #1</text></g>
<g id="pos-enc-label" fill="#5cb85c"><text class="geo" x="2349" y="1683" font-size="32" text-anchor="middle">learnt</text><text class="geo" x="2349" y="1725" font-size="32" text-anchor="middle">positional</text><text class="geo" x="2349" y="1768" font-size="32" text-anchor="middle">encoding</text></g>

<g id="input-board">
<text class="geo" x="2961" y="961" font-size="32" text-anchor="middle">input:</text>
<text class="geo" x="2961" y="1005" font-size="32" text-anchor="middle">masked board</text>
<g transform="translate(2845,1029) scale(29.125)"><rect class="r" width="8" height="8"/><use href="#stage2"/>
<rect class="d" x="0" y="0" width="1" height="1"/><rect class="d" x="7" y="0" width="1" height="1"/>
<rect class="d" x="1" y="1" width="1" height="1"/><rect class="d" x="2" y="1" width="1" height="1"/><rect class="d" x="5" y="1" width="1" height="1"/>
<rect class="d" x="6" y="2" width="1" height="1"/>
<rect class="d" x="2" y="3" width="1" height="1"/><rect class="d" x="3" y="3" width="1" height="1"/><rect class="d" x="6" y="3" width="1" height="1"/>
<rect class="d" x="2" y="4" width="1" height="1"/>
<rect class="d" x="4" y="5" width="1" height="1"/><rect class="p" x="5" y="5" width="1" height="1"/><rect class="d" x="6" y="5" width="1" height="1"/>
<rect class="d" x="2" y="6" width="1" height="1"/>
<rect class="d" x="0" y="7" width="1" height="1"/><rect class="d" x="1" y="7" width="1" height="1"/><rect class="d" x="3" y="7" width="1" height="1"/><rect class="d" x="7" y="7" width="1" height="1"/>
<use href="#gl8" stroke="#d6d6d6" stroke-width="3.5"/></g>
<rect x="3049" y="1233" width="29" height="29" fill="none" stroke="#3a75bb" stroke-width="3" stroke-dasharray="3 2"/>
</g>
<g id="flattened"><path d="M2845 1264H3078C3078 1318 2995 1322 2962 1360C2929 1322 2845 1318 2845 1264Z" fill="url(#gFlat)"/><text class="geo" x="2962" y="1306" font-size="32" fill="#9a9a9a" text-anchor="middle">flattened</text></g>
<g id="token-vector">
<path d="M2949 1365H2940V1644H2949M2977 1365H2986V1644H2977" fill="none" stroke="#111" stroke-width="3"/>
<rect x="2946" y="1370" width="34" height="62" fill="#d6d6d6"/><rect class="d" x="2948" y="1372" width="30" height="28"/><rect class="r" x="2948" y="1402" width="30" height="28"/>
<g fill="#111"><circle cx="2963" cy="1448" r="3"/><circle cx="2963" cy="1457" r="3"/><circle cx="2963" cy="1466" r="3"/><circle cx="2963" cy="1550" r="3"/><circle cx="2963" cy="1559" r="3"/><circle cx="2963" cy="1568" r="3"/></g>
<rect x="2946" y="1475" width="34" height="62" fill="#d6d6d6"/><rect class="d" x="2948" y="1477" width="30" height="28"/><rect class="p" x="2948" y="1507" width="30" height="28"/>
<rect x="2946" y="1577" width="34" height="62" fill="#d6d6d6"/><rect class="g" x="2948" y="1579" width="30" height="28"/><rect class="d" x="2948" y="1609" width="30" height="28"/>
<rect x="2947" y="1608" width="32" height="30" fill="none" stroke="#3a75bb" stroke-width="3" stroke-dasharray="3 2"/>
</g>
<g id="token-embedding"><rect x="2810" y="1688" width="309" height="59" rx="18" fill="#9db8d0"/><text class="geo" x="2965" y="1729" font-size="33" fill="#fff" text-anchor="middle">token embedding</text></g>
</svg>
